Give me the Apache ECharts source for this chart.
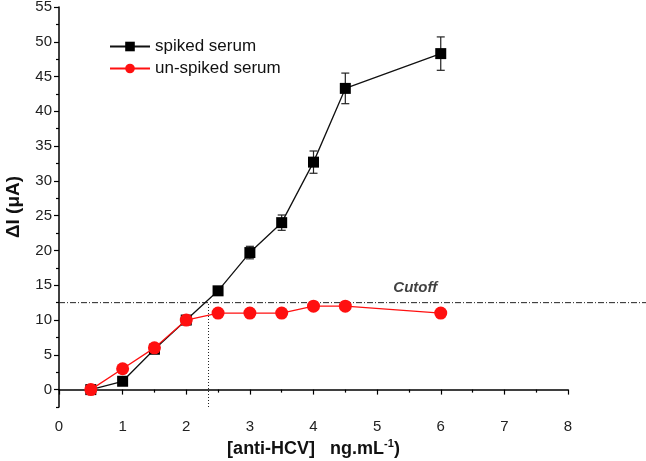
<!DOCTYPE html>
<html><head><meta charset="utf-8">
<script src="https://cdn.jsdelivr.net/npm/echarts@6/dist/echarts.min.js"></script>
<style>html,body{margin:0;padding:0;background:#fff}#c{width:646px;height:461px}</style>
</head><body><div id="c"></div>
<script>
// ---- data ----
const conc = [0.5, 1, 1.5, 2, 2.5, 3, 3.5, 4, 4.5, 6];
const spiked = [0, 1.2, 5.8, 10, 14.2, 19.7, 24, 32.7, 43.3, 48.3];
const spikedErr = [0.2, 0.3, 0.3, 0.3, 0.6, 0.9, 1.1, 1.6, 2.2, 2.4];
const unspiked = [0, 3, 6, 10, 11, 11, 11, 12, 12, 11];
const unspikedErr = [0.3, 0.3, 0.3, 0.3, 0.5, 0.5, 0.5, 0.6, 0.6, 0.5];
const cutoffValue = 12.5;
const cutoffConc = 2.35;
const cutoffLabelX = 5.6;
const yMajorTicks = [0, 5, 10, 15, 20, 25, 30, 35, 40, 45, 50, 55];
const yMinorTicks = [-2.5, 2.5, 7.5, 12.5, 17.5, 22.5, 27.5, 32.5, 37.5, 42.5, 47.5, 52.5];

// ---- layout ----
const L = 59, R = 78, T = 7, B = 54, W = 646, H = 461;
const yMin = -2.5, yMax = 55, xMin = 0, xMax = 8;
const xMax2 = xMax * (W - L) / (W - L - R);

const font = 'Arial, "Liberation Sans", sans-serif';
const chart = echarts.init(document.getElementById('c'), null, {renderer: 'canvas'});

function errItem(vals, errs, color) {
  return {
    type: 'custom', xAxisIndex: 0, yAxisIndex: 0, z: 3, silent: true,
    data: conc.map((x, i) => [x, vals[i], errs[i]]),
    renderItem: function (params, api) {
      const x = api.value(0), v = api.value(1), e = api.value(2);
      const top = api.coord([x, v + e]), bot = api.coord([x, v - e]);
      const hw = 4;
      const st = {stroke: color, lineWidth: 1.2};
      return {type: 'group', children: [
        {type: 'line', shape: {x1: top[0], y1: top[1], x2: bot[0], y2: bot[1]}, style: st},
        {type: 'line', shape: {x1: top[0] - hw, y1: top[1], x2: top[0] + hw, y2: top[1]}, style: st},
        {type: 'line', shape: {x1: bot[0] - hw, y1: bot[1], x2: bot[0] + hw, y2: bot[1]}, style: st}
      ]};
    }
  };
}

const option = {
  animation: false,
  backgroundColor: '#fff',
  textStyle: {fontFamily: font},
  grid: [
    {left: L, right: R, top: T, bottom: B, containLabel: false, outerBoundsMode: 'none'},
    {left: L, right: 0, top: T, bottom: B, containLabel: false, outerBoundsMode: 'none'}
  ],
  legend: {
    left: 104, top: 33, orient: 'vertical', itemGap: 5,
    itemWidth: 40, itemHeight: 12,
    textStyle: {fontSize: 17, color: '#111', fontFamily: font},
    data: ['spiked serum', 'un-spiked serum']
  },
  xAxis: [
    {
      type: 'value', gridIndex: 0, min: xMin, max: xMax, interval: 1,
      axisLine: {lineStyle: {color: '#000', width: 1.5}},
      axisTick: {show: true, length: 5, inside: false, lineStyle: {color: '#000', width: 1.2}},
      minorTick: {show: true, splitNumber: 2, length: 3, lineStyle: {color: '#000', width: 1.2}},
      splitLine: {show: false},
      axisLabel: {fontSize: 15, color: '#222', margin: 12, fontFamily: font},
      name: '{b|[anti-HCV]   ng.mL}{s|-1}{b|)}',
      nameLocation: 'middle', nameGap: 31,
      nameTextStyle: {rich: {
        b: {fontSize: 18, fontWeight: 'bold', color: '#111', fontFamily: font},
        s: {fontSize: 11, fontWeight: 'bold', color: '#111', fontFamily: font, verticalAlign: 'top', padding: [0, 0, 10, 0]}
      }}
    },
    {
      type: 'value', gridIndex: 1, min: xMin, max: xMax2, show: false
    }
  ],
  yAxis: [
    {
      type: 'value', gridIndex: 0, min: yMin, max: yMax,
      axisLine: {show: true, lineStyle: {color: '#000', width: 1.5}},
      axisTick: {show: true, length: 5, lineStyle: {color: '#000', width: 1.2}, customValues: yMajorTicks},
      axisLabel: {fontSize: 15, color: '#222', margin: 7, fontFamily: font, customValues: yMajorTicks},
      splitLine: {show: false},
      name: 'ΔI (μA)', nameLocation: 'middle', nameGap: 36, nameRotate: 90,
      nameTextStyle: {fontSize: 19, fontWeight: 'bold', color: '#111', fontFamily: font}
    },
    {
      type: 'value', gridIndex: 0, min: yMin, max: yMax, position: 'left', offset: 0,
      axisLine: {show: false},
      axisTick: {show: true, length: 3, lineStyle: {color: '#000', width: 1.2}, customValues: yMinorTicks},
      axisLabel: {show: false, customValues: yMinorTicks},
      splitLine: {show: false}
    },
    {
      type: 'value', gridIndex: 1, min: yMin, max: yMax, show: false
    }
  ],
  series: [
    {
      name: 'cutoffH', type: 'line', xAxisIndex: 1, yAxisIndex: 2, silent: true,
      data: [[xMin, cutoffValue], [xMax2, cutoffValue]],
      symbol: 'none', z: 1,
      lineStyle: {color: '#222', width: 1, type: [6, 2, 1, 2]}
    },
    {
      name: 'cutoffV', type: 'line', xAxisIndex: 0, yAxisIndex: 0, silent: true,
      data: [[cutoffConc, yMin], [cutoffConc, cutoffValue]],
      symbol: 'none', z: 1,
      lineStyle: {color: '#222', width: 1, type: [1, 2]}
    },
    {
      name: 'cutoffLabel', type: 'scatter', xAxisIndex: 0, yAxisIndex: 0, silent: true,
      data: [[cutoffLabelX, cutoffValue]], symbolSize: 0,
      label: {show: true, position: 'top', distance: 7, formatter: 'Cutoff',
        fontSize: 15, fontWeight: 'bold', fontStyle: 'italic', color: '#111', fontFamily: font}
    },
    errItem(spiked, spikedErr, '#222'),
    errItem(unspiked, unspikedErr, '#ff2020'),
    {
      name: 'spiked serum', type: 'line', xAxisIndex: 0, yAxisIndex: 0, z: 4,
      data: conc.map((x, i) => [x, spiked[i]]),
      symbol: 'rect', symbolSize: 11, showAllSymbol: true,
      itemStyle: {color: '#000'},
      lineStyle: {color: '#111', width: 1.3}
    },
    {
      name: 'un-spiked serum', type: 'line', xAxisIndex: 0, yAxisIndex: 0, z: 5,
      data: conc.map((x, i) => [x, unspiked[i]]),
      symbol: 'circle', symbolSize: 13, showAllSymbol: true,
      itemStyle: {color: '#ff1010'},
      lineStyle: {color: '#ff1010', width: 1.3}
    }
  ]
};
chart.setOption(option);
</script>
</body></html>
